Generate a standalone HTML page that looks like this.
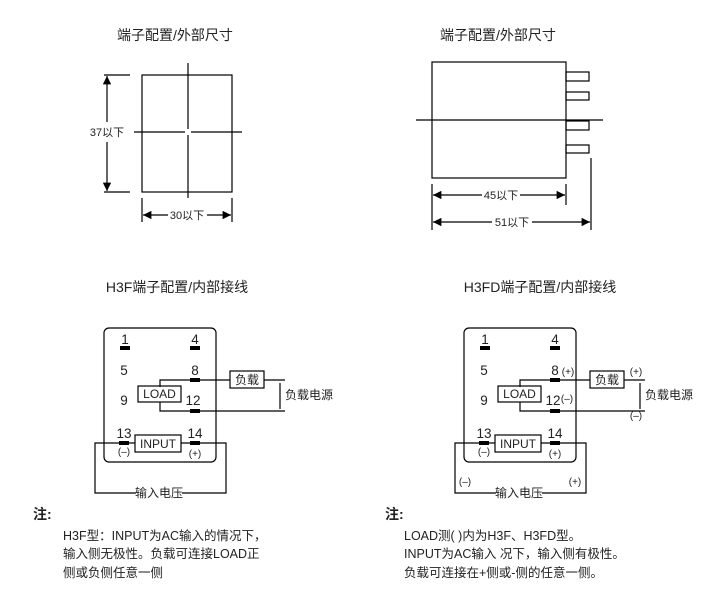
<!DOCTYPE html>
<html><head><meta charset="utf-8"><style>
html,body{margin:0;padding:0;background:#fff;}
svg{display:block;font-family:"Liberation Sans","Noto Sans CJK SC",sans-serif;}
text{fill:#222;}
</style></head><body>
<svg width="702" height="615" viewBox="0 0 702 615" xmlns="http://www.w3.org/2000/svg">
<defs>
<marker id="a" viewBox="0 0 10 10" refX="10" refY="5" markerWidth="7" markerHeight="7" orient="auto-start-reverse"><path d="M0,0L10,5L0,10z" fill="#000"/></marker>
</defs>
<g stroke="#000" stroke-width="1.2" fill="none">
<rect x="142" y="75" width="90" height="117"/>
<line x1="188" y1="63" x2="188" y2="129"/><line x1="188" y1="135" x2="188" y2="198"/>
<line x1="134" y1="132" x2="185" y2="132"/><line x1="191" y1="132" x2="242" y2="132"/>
<line x1="104" y1="75" x2="130" y2="75"/><line x1="104" y1="192" x2="130" y2="192"/>
<line x1="107" y1="76" x2="107" y2="122" marker-start="url(#a)"/><line x1="107" y1="142" x2="107" y2="191" marker-end="url(#a)"/>
<line x1="142" y1="198" x2="142" y2="222"/><line x1="232" y1="198" x2="232" y2="222"/>
<line x1="143" y1="215" x2="168" y2="215" marker-start="url(#a)"/><line x1="207" y1="215" x2="231" y2="215" marker-end="url(#a)"/>
<rect x="432" y="62" width="134" height="116"/>
<rect x="566" y="72" width="23" height="9"/><rect x="566" y="92" width="23" height="8"/>
<rect x="566" y="121" width="23" height="9"/><rect x="566" y="145" width="23" height="8"/>
<line x1="416" y1="120" x2="603" y2="120"/>
<line x1="432" y1="184" x2="432" y2="230"/><line x1="566" y1="184" x2="566" y2="205"/><line x1="591" y1="158" x2="591" y2="230"/>
<line x1="433" y1="195" x2="482" y2="195" marker-start="url(#a)"/><line x1="520" y1="195" x2="565" y2="195" marker-end="url(#a)"/>
<line x1="433" y1="222" x2="492" y2="222" marker-start="url(#a)"/><line x1="532" y1="222" x2="590" y2="222" marker-end="url(#a)"/>
</g>
<g font-size="14"><text x="175" y="40" text-anchor="middle">端子配置/外部尺寸</text><text x="498" y="40" text-anchor="middle">端子配置/外部尺寸</text>
<text x="177" y="292" text-anchor="middle">H3F端子配置/内部接线</text><text x="540" y="292" text-anchor="middle">H3FD端子配置/内部接线</text></g>
<g font-size="11"><text x="107" y="136" text-anchor="middle">37以下</text><text x="187" y="219" text-anchor="middle">30以下</text>
<text x="501" y="199" text-anchor="middle">45以下</text><text x="512" y="226" text-anchor="middle">51以下</text></g>

<g id="w">
<g stroke="#000" stroke-width="1.2" fill="none">
<rect x="104" y="328" width="112" height="134" rx="5"/>
<rect x="138" y="386" width="43" height="16"/>
<rect x="230" y="371" width="34" height="17"/>
<rect x="135" y="435" width="46" height="17"/>
<polyline points="160,387 160,380 230,380"/><line x1="264" y1="380" x2="285" y2="380"/>
<polyline points="160,402 160,411 285,411"/>
<line x1="280" y1="383" x2="280" y2="409"/>
<polyline points="135,443 95,443 95,493 136,493"/><polyline points="182,493 226,493 226,443 181,443"/>
</g>
<g fill="#000">
<rect x="120" y="346" width="10" height="4"/><rect x="190" y="346" width="10" height="4"/>
<rect x="190" y="378" width="10" height="4"/><rect x="190" y="409" width="10" height="4"/>
<rect x="119" y="441" width="10" height="4"/><rect x="190" y="441" width="10" height="4"/>
</g>
<g font-size="13.5" text-anchor="middle"><text x="125" y="344">1</text><text x="195" y="344">4</text>
<text x="124" y="375">5</text><text x="195" y="375">8</text><text x="124" y="405">9</text><text x="193" y="405">12</text>
<text x="124" y="438">13</text><text x="195" y="438">14</text></g>
<g font-size="12" text-anchor="middle"><text x="159.5" y="398">LOAD</text><text x="247" y="384">负载</text><text x="158" y="448">INPUT</text>
<text x="159" y="497">输入电压</text></g>
<text x="285" y="399" font-size="12">负载电源</text>
<g font-size="10" text-anchor="middle"><text x="124" y="455">(–)</text><text x="195" y="457">(+)</text></g>
</g>
<use href="#w" x="360" y="0"/>
<g font-size="10" text-anchor="middle"><text x="568" y="375">(+)</text><text x="567" y="402">(–)</text>
<text x="636" y="375">(+)</text><text x="636" y="419">(–)</text><text x="465" y="485">(–)</text><text x="575" y="485">(+)</text></g>

<g font-size="14" font-weight="bold"><text x="33" y="519">注:</text><text x="385" y="519">注:</text></g>
<g font-size="12.5"><text x="63" y="540">H3F型：INPUT为AC输入的情况下，</text><text x="63" y="558">输入侧无极性。负载可连接LOAD正</text><text x="63" y="577">侧或负侧任意一侧</text>
<text x="404" y="540">LOAD测(  )内为H3F、H3FD型。</text><text x="404" y="558">INPUT为AC输入 况下，输入侧有极性。</text><text x="404" y="577">负载可连接在+侧或-侧的任意一侧。</text></g>
</svg>
</body></html>
